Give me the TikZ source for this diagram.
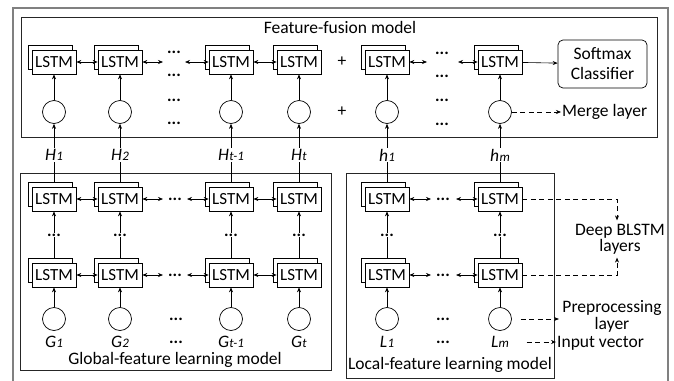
\documentclass[tikz,border=0pt]{standalone}
\usepackage{fontspec}
\setmainfont{Carlito}
\usetikzlibrary{arrows.meta,calc}
\tikzset{
  lstmbox/.style={draw, fill=white, minimum width=44pt, minimum height=24pt, inner sep=0pt, line width=0.7pt, font=\fontsize{17}{17}\selectfont},
  backbox/.style={draw, fill=white, line width=0.7pt},
  cell/.style={draw, circle, minimum size=23pt, inner sep=0pt, line width=0.7pt},
  arr/.style={-{Stealth[length=5pt,width=4pt]}, line width=0.6pt},
  biarr/.style={{Stealth[length=5pt,width=4pt]}-{Stealth[length=5pt,width=4pt]}, line width=0.6pt},
  dasharr/.style={arr, dash pattern=on 5pt off 3.5pt},
  dotn/.style={inner sep=1pt, fill=white, font=\fontsize{17}{17}\selectfont\bfseries},
  lab/.style={inner sep=1pt, fill=white},
  frame/.style={draw=black!85, line width=0.9pt},
}
\newcommand\lstmcell[3]{%
  \draw[backbox] (#2-25.5,#3-17) rectangle (#2+18.5,#3+7);
  \node[lstmbox] (#1) at (#2,#3) {LSTM};}
\newcommand\vlab[2]{\textit{#1\kern0.3pt{\fontsize{13}{13}\selectfont #2}}}
\begin{document}
\begin{tikzpicture}[x=1pt,y=-1pt,font=\fontsize{17.5}{18}\selectfont]
\useasboundingbox (0,0) rectangle (674,380);
% outer frame
\draw[draw=black!50, line width=1.6pt] (13,382) -- (13,8) -- (668,8) -- (668,382);
% inner frames
\draw[frame] (21,17) rectangle (657,137);
\draw[frame] (20,173) rectangle (331,370);
\draw[frame] (346,173) rectangle (554,378.5);
\node (ttl1) at (340,27) {Feature-fusion model};
\node (ttl2) at (175,360) {Global-feature learning model};
\node (ttl3) at (450,365) {Local-feature learning model};

% fusion model
\foreach \i/\x in {1/54,2/120,3/231,4/299,5/387,6/500}{
  \lstmcell{f\i}{\x}{62}
  \node[cell] (fc\i) at (\x,112) {};
  \draw[arr] (fc\i) -- (f\i);
}
\draw[biarr] (f1) -- (f2);
\coordinate (fx1) at (163,62); \coordinate (fx2) at (185,62);
\draw[biarr] (f2) -- (fx1);
\draw[biarr] (fx2) -- (f3);
\draw[biarr] (f3) -- (f4);
\coordinate (fx3) at (427,62); \coordinate (fx4) at (458,62);
\draw[biarr] (f5) -- (fx3);
\draw[biarr] (fx4) -- (f6);
\node[draw, rounded corners=5pt, minimum width=89pt, minimum height=48pt, align=center, line width=0.7pt, font=\fontsize{17.5}{20}\selectfont] (soft) at (602.5,64) {Softmax\\Classifier};
\draw[arr] (f6) -- (soft);
\foreach \n/\x/\y in {a/174/52,b/174/75,c/174/100,d/174/123,e/442/53,f/442/76,g/442/100,h/442/124}{
  \node[dotn, fill=none] (fd\n) at (\x,\y) {...};
}
\node (plus1) at (342,62) {+};
\node (plus2) at (342,112) {+};
\node[anchor=west, inner sep=1pt] (merge) at (561,112) {Merge layer};
\draw[dasharr] (fc6) -- (merge);

% global model
\foreach \i/\x in {1/54,2/120,3/231,4/299}{
  \lstmcell{gu\i}{\x}{199}
  \lstmcell{gl\i}{\x}{275}
  \node[cell] (gc\i) at (\x,319) {};
  \draw[arr] (gc\i) -- (gl\i);
  \draw[arr] ($(gl\i.north)+(0,-5)$) -- (gu\i.south);
  \node[dotn] (gv\i) at (\x,235) {...};
  \draw[arr] ($(gu\i.north)+(0,-5)$) -- (fc\i);
}
\foreach \r/\y in {u/199,l/275}{
  \draw[biarr] (g\r1) -- (g\r2);
  \coordinate (gx\r1) at (163,\y); \coordinate (gx\r2) at (187,\y);
  \draw[biarr] (g\r2) -- (gx\r1);
  \draw[biarr] (gx\r2) -- (g\r3);
  \draw[biarr] (g\r3) -- (g\r4);
  \node[dotn, fill=none] (gd\r) at (175,\y) {...};
}
\node[lab] (H1) at (54,155) {\vlab{H}{1}};
\node[lab] (H2) at (120,155) {\vlab{H}{2}};
\node[lab] (H3) at (231,155) {\vlab{H}{t-1}};
\node[lab] (H4) at (299,155) {\vlab{H}{t}};
\node (G1) at (54,342) {\vlab{G}{1}};
\node (G2) at (120,342) {\vlab{G}{2}};
\node (G3) at (231,342) {\vlab{G}{t-1}};
\node (G4) at (299,342) {\vlab{G}{t}};
\node[dotn, fill=none] (gdc1) at (176,319) {...};
\node[dotn, fill=none] (gdc2) at (176,342) {...};

% local model
\foreach \i/\x in {5/387,6/500}{
  \lstmcell{lu\i}{\x}{199}
  \lstmcell{ll\i}{\x}{275}
  \node[cell] (lc\i) at (\x,319) {};
  \draw[arr] (lc\i) -- (ll\i);
  \draw[arr] ($(ll\i.north)+(0,-5)$) -- (lu\i.south);
  \node[dotn] (lv\i) at (\x,235) {...};
  \draw[arr] ($(lu\i.north)+(0,-5)$) -- (fc\i);
}
\foreach \r/\y in {u/199,l/275}{
  \coordinate (lx\r1) at (431,\y); \coordinate (lx\r2) at (456,\y);
  \draw[biarr] (l\r5) -- (lx\r1);
  \draw[biarr] (lx\r2) -- (l\r6);
  \node[dotn, fill=none] (ld\r) at (443,\y) {...};
}
\node[lab] (h1) at (387,155) {\vlab{h}{1}};
\node[lab] (hm) at (500,155) {\vlab{h}{m}};
\node (L1) at (387,342) {\vlab{L}{1}};
\node (Lm) at (500,342) {\vlab{L}{m}};
\node[dotn, fill=none] (ldc1) at (443,319) {...};
\node[dotn, fill=none] (ldc2) at (443,342) {...};

% side annotations
\node[align=center, font=\fontsize{17.5}{16}\selectfont] (deep) at (620,239) {Deep BLSTM\\layers};
\coordinate (dk1) at (617,199); \coordinate (dk2) at (617,275);
\draw[dasharr] (lu6) -- (dk1) -- (dk1 |- deep.north);
\draw[dasharr] (ll6) -- (dk2) -- (dk2 |- deep.south);
\node[align=center, font=\fontsize{17.5}{17}\selectfont] (prep) at (612,316.5) {Preprocessing\\layer};
\draw[dasharr, shorten <=9pt] (lc6) -- (lc6 -| prep.west);
\node[anchor=west, inner sep=1pt] (inp) at (556,343) {Input vector};
\draw[dasharr, shorten <=14pt] (Lm) -- (Lm -| inp.west);
\end{tikzpicture}
\end{document}
